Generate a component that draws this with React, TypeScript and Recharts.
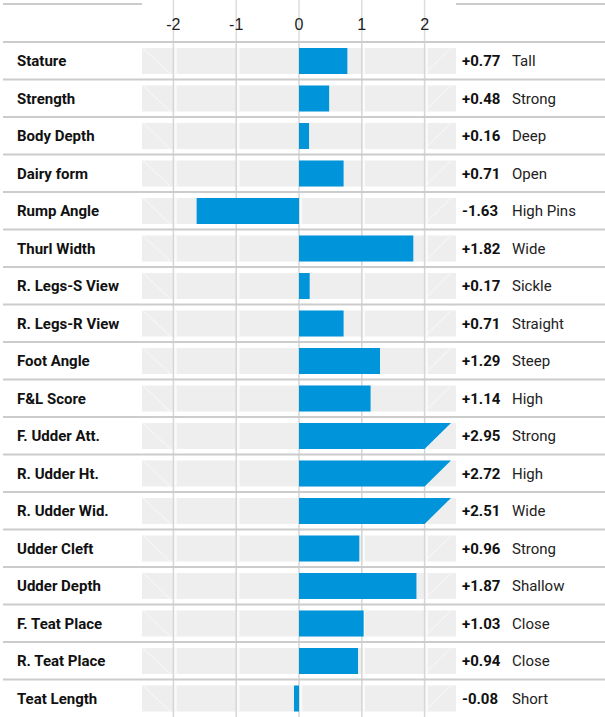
import React from "react";
import { BarChart, Bar, XAxis, YAxis } from "recharts";

const traits = [
  "Stature",
  "Strength",
  "Body Depth",
  "Dairy form",
  "Rump Angle",
  "Thurl Width",
  "R. Legs-S View",
  "R. Legs-R View",
  "Foot Angle",
  "F&L Score",
  "F. Udder Att.",
  "R. Udder Ht.",
  "R. Udder Wid.",
  "Udder Cleft",
  "Udder Depth",
  "F. Teat Place",
  "R. Teat Place",
  "Teat Length",
];
const values = [
  0.77, 0.48, 0.16, 0.71, -1.63, 1.82, 0.17, 0.71, 1.29, 1.14, 2.95, 2.72, 2.51, 0.96, 1.87, 1.03, 0.94, -0.08,
];
const descriptors = [
  "Tall",
  "Strong",
  "Deep",
  "Open",
  "High Pins",
  "Wide",
  "Sickle",
  "Straight",
  "Steep",
  "High",
  "Strong",
  "High",
  "Wide",
  "Strong",
  "Shallow",
  "Close",
  "Close",
  "Short",
];
const axisTicks = [-2, -1, 0, 1, 2];

const W = 605;
const H = 717;
const HEADER = 42;
const LEFT_W = 142;
const RIGHT_W = 149;
const DOMAIN: [number, number] = [-2.5, 2.5];
const BAR_SIZE = 26;
const BLUE = "#0095da";
const BG = "#eeeeee";
const RULE = "#cccccc";
const FONT = "Roboto, 'Noto Sans', sans-serif";
const band = (H - HEADER) / traits.length;

const data = traits.map((trait, i) => ({ trait, value: values[i] }));

const fmt = (v: number) => (v > 0 ? "+" : "") + v.toFixed(2);

// position of a value inside a row background rect
const atIn = (bg: any, v: number) => bg.x + ((v - DOMAIN[0]) / (DOMAIN[1] - DOMAIN[0])) * bg.width;

function RowBackground(props: any) {
  const { x, y, width, height } = props;
  const bg = { x, width };
  const gap = (band - height) / 2 + 1;
  return (
    <g>
      <rect x={x} y={y} width={width} height={height} fill={BG} />
      <line x1={x + 1} y1={y} x2={atIn(bg, -2) - 3} y2={y + height} stroke="#f5f5f5" strokeWidth={1.2} />
      <line x1={atIn(bg, 2)} y1={y + height} x2={x + width - 5} y2={y} stroke="#f5f5f5" strokeWidth={1.2} />
      {axisTicks.map((t) => (
        <g key={t}>
          <line x1={atIn(bg, t) + 2} x2={atIn(bg, t) + 2} y1={y} y2={y + height} stroke="#fafafa" strokeWidth={2.5} />
          <line x1={atIn(bg, t)} x2={atIn(bg, t)} y1={y - gap} y2={y + height + gap} stroke="#d6d6d6" strokeWidth={1.5} />
        </g>
      ))}
    </g>
  );
}

function ValueBar(props: any) {
  const { x, y, width, height, payload, background } = props;
  const v = payload.value;
  const left = Math.min(x, x + width);
  const w = Math.abs(width);
  if (v <= DOMAIN[1]) return <rect x={left} y={y} width={w} height={height} fill={BLUE} />;
  // beyond the scale: cut the bar along the outer diagonal
  const at = (t: number) => (background ? atIn(background, t) : x + (w / v) * t);
  const xTop = at(DOMAIN[1]) - 5;
  const xBot = at(2);
  return (
    <polygon
      points={`${x},${y} ${xTop},${y} ${xBot},${y + height} ${x},${y + height}`}
      fill={BLUE}
    />
  );
}

function ScaleTick(props: any) {
  const { x, payload } = props;
  return (
    <g>
      <line x1={x} x2={x} y1={0} y2={HEADER} stroke="#dddddd" strokeWidth={1.5} />
      <text
        x={x}
        y={24}
        dy="0.35em"
        textAnchor="middle"
        fontFamily="'Liberation Sans', Arial, sans-serif"
        fontSize={16}
        fill="#222"
      >
        {payload.value}
      </text>
    </g>
  );
}

function TraitTick(props: any) {
  const { y, payload, index } = props;
  const top = y - band / 2;
  return (
    <g>
      {index === 0 && (
        <>
          <line x1={3} x2={LEFT_W} y1={4} y2={4} stroke={RULE} strokeWidth={2} />
          <line x1={W - RIGHT_W} x2={W} y1={4} y2={4} stroke={RULE} strokeWidth={2} />
        </>
      )}
      <line x1={3} x2={W} y1={top} y2={top} stroke={RULE} strokeWidth={2} />
      <text x={17} y={y} dy="0.35em" fontFamily={FONT} fontWeight={700} fontSize={15} fill="#111">
        {payload.value}
      </text>
    </g>
  );
}

function ScoreTick(props: any) {
  const { y, payload } = props;
  const i = traits.indexOf(payload.value);
  const x0 = W - RIGHT_W;
  return (
    <g>
      <text x={x0 + 6} y={y} dy="0.35em" fontFamily={FONT} fontWeight={700} fontSize={15} fill="#111">
        {fmt(values[i])}
      </text>
      <text x={x0 + 56} y={y} dy="0.35em" fontFamily={FONT} fontSize={15} fill="#222">
        {descriptors[i]}
      </text>
    </g>
  );
}

export default function App() {
  return (
    <div style={{ width: W, height: H, background: "#fff" }}>
      <style>{"body{margin:0;}"}</style>
      <BarChart
        width={W}
        height={H}
        data={data}
        layout="vertical"
        margin={{ top: 0, right: 0, bottom: 0, left: 0 }}
        barCategoryGap={0}
      >
        <XAxis
          type="number"
          orientation="top"
          domain={DOMAIN}
          ticks={axisTicks}
          allowDataOverflow
          axisLine={false}
          tickLine={false}
          height={HEADER}
          tick={<ScaleTick />}
        />
        <YAxis
          yAxisId="left"
          type="category"
          dataKey="trait"
          width={LEFT_W}
          axisLine={false}
          tickLine={false}
          interval={0}
          tick={<TraitTick />}
        />
        <YAxis
          yAxisId="right"
          orientation="right"
          type="category"
          dataKey="trait"
          width={RIGHT_W}
          axisLine={false}
          tickLine={false}
          interval={0}
          tick={<ScoreTick />}
        />
        <Bar
          yAxisId="left"
          dataKey="value"
          barSize={BAR_SIZE}
          fill={BLUE}
          background={(p: any) => <RowBackground key={p.index} {...p} />}
          shape={(p: any) => <ValueBar {...p} />}
          isAnimationActive={false}
        />
      </BarChart>
    </div>
  );
}
